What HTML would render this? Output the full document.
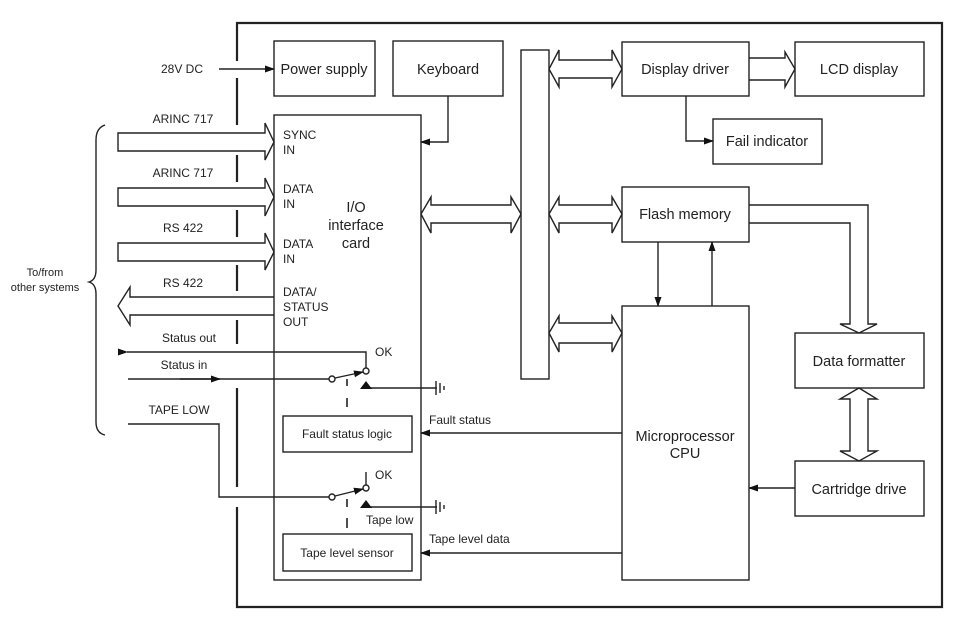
<!DOCTYPE html>
<html><head><meta charset="utf-8"><style>
html,body{margin:0;padding:0;background:#fff;}
svg{display:block;}
text{font-family:"Liberation Sans",Arial,sans-serif;fill:#222;}
</style></head><body>
<svg width="953" height="618" viewBox="0 0 953 618" xmlns="http://www.w3.org/2000/svg">
<defs>
<marker id="a" markerWidth="10" markerHeight="8" refX="9" refY="4" orient="auto" markerUnits="userSpaceOnUse"><path d="M0,0.5 L10,4 L0,7.5 z" fill="#111"/></marker>
</defs>
<g fill="none" stroke="#222" stroke-width="1.4">
<path d="M237,61 V23 H942 V607 H237 V507" stroke-width="2.2"/>
<g stroke-width="2.2">
<line x1="237" y1="78" x2="237" y2="125"/>
<line x1="237" y1="155" x2="237" y2="182"/>
<line x1="237" y1="210" x2="237" y2="237"/>
<line x1="237" y1="265" x2="237" y2="291"/>
<line x1="237" y1="320" x2="237" y2="344"/>
<line x1="237" y1="388" x2="237" y2="487"/>
</g>
<rect x="274" y="41" width="101" height="55"/>
<rect x="393" y="41" width="110" height="55"/>
<rect x="521" y="50" width="28" height="329"/>
<rect x="274" y="115" width="147" height="465"/>
<rect x="622" y="42" width="127" height="54"/>
<rect x="795" y="42" width="129" height="54"/>
<rect x="713" y="119" width="109" height="45"/>
<rect x="622" y="187" width="127" height="55"/>
<rect x="622" y="306" width="127" height="274"/>
<rect x="795" y="333" width="129" height="55"/>
<rect x="795" y="461" width="129" height="55"/>
<rect x="283" y="416" width="129" height="36"/>
<rect x="283" y="534" width="129" height="37"/>
<line x1="219" y1="69" x2="274" y2="69" marker-end="url(#a)"/>
<polyline points="448,96 448,142 421,142" marker-end="url(#a)"/>
<polyline points="686,96 686,141 713,141" marker-end="url(#a)"/>
<line x1="658" y1="242" x2="658" y2="306" marker-end="url(#a)"/>
<line x1="712" y1="306" x2="712" y2="242" marker-end="url(#a)"/>
<line x1="622" y1="433" x2="421" y2="433" marker-end="url(#a)"/>
<line x1="622" y1="553" x2="421" y2="553" marker-end="url(#a)"/>
<line x1="795" y1="488" x2="749" y2="488" marker-end="url(#a)"/>
<path d="M118,133 H265 V123 L274,142 L265,160 V151 H118 Z"/>
<path d="M118,188 H265 V178 L274,197 L265,216 V206 H118 Z"/>
<path d="M118,243 H265 V233 L274,252 L265,270 V261 H118 Z"/>
<path d="M274,297 H130 V287 L118,306 L130,325 V315 H274"/>
<path d="M431,205 H511 V197 L521,214 L511,233 V223 H431 V233 L421,214 L431,197 Z"/>
<path d="M559,205 H612 V197 L622,214 L612,233 V223 H559 V233 L549,214 L559,197 Z"/>
<path d="M559,323 H612 V316 L622,333 L612,352 V343 H559 V352 L549,333 L559,316 Z"/>
<path d="M559,60 H612 V50 L622,69 L612,87 V78 H559 V87 L549,69 L559,50 Z"/>
<path d="M749,58 H785 V52 L795,69 L785,87 V80 H749"/>
<path d="M749,205 H868 V324 H877 L859,333 L840,324 H850 V223 H749"/>
<path d="M850,399 H840 L859,388 L877,399 H868 V451 H877 L859,461 L840,451 H850 Z"/>
<path d="M105,125 Q96,128 96,140 V270 Q96,280 89,282 Q96,284 96,294 V422 Q96,433 105,435"/>
<polyline points="127,352 366,352 366,368" marker-start="url(#a)"/>
<line x1="128" y1="379" x2="329" y2="379"/>
<line x1="180" y1="379" x2="220" y2="379" marker-end="url(#a)"/>
<circle cx="332" cy="379" r="3" fill="#fff"/>
<circle cx="366" cy="371" r="3" fill="#fff"/>
<line x1="335" y1="378" x2="363" y2="372" marker-end="url(#a)"/>
<line x1="362" y1="388" x2="437" y2="388"/>
<line x1="347" y1="379" x2="347" y2="386" stroke-width="1.6"/>
<line x1="347" y1="398" x2="347" y2="407" stroke-width="1.6"/>
<polyline points="128,424 219,424 219,497 329,497"/>
<circle cx="332" cy="497" r="3" fill="#fff"/>
<circle cx="366" cy="488" r="3" fill="#fff"/>
<line x1="366" y1="472" x2="366" y2="485"/>
<line x1="335" y1="496" x2="363" y2="489" marker-end="url(#a)"/>
<line x1="362" y1="507" x2="437" y2="507"/>
<line x1="347" y1="499" x2="347" y2="507" stroke-width="1.6"/>
<line x1="347" y1="518" x2="347" y2="528" stroke-width="1.6"/>
<line x1="436" y1="381" x2="436" y2="395"/><line x1="440" y1="383" x2="440" y2="393"/><line x1="444" y1="386" x2="444" y2="390"/>
<line x1="436" y1="500" x2="436" y2="514"/><line x1="440" y1="502" x2="440" y2="512"/><line x1="444" y1="505" x2="444" y2="509"/>
</g>
<path d="M360,389 L366,381 L372,389 Z" fill="#111"/>
<path d="M360,508 L366,500 L372,508 Z" fill="#111"/>
<g font-size="14.5" text-anchor="middle">
<text x="324" y="74">Power supply</text>
<text x="448" y="74">Keyboard</text>
<text x="685" y="74">Display driver</text>
<text x="859" y="74">LCD display</text>
<text x="767" y="146">Fail indicator</text>
<text x="685" y="219">Flash memory</text>
<text x="685" y="441">Microprocessor</text>
<text x="685" y="458">CPU</text>
<text x="859" y="366">Data formatter</text>
<text x="859" y="494">Cartridge drive</text>
<text x="356" y="212">I/O</text>
<text x="356" y="230">interface</text>
<text x="356" y="248">card</text>
</g>
<g font-size="12">
<text x="283" y="139">SYNC</text><text x="283" y="154">IN</text>
<text x="283" y="193">DATA</text><text x="283" y="208">IN</text>
<text x="283" y="248">DATA</text><text x="283" y="263">IN</text>
<text x="283" y="296">DATA/</text><text x="283" y="311">STATUS</text><text x="283" y="326">OUT</text>
<text x="161" y="73">28V DC</text>
<text x="183" y="123" text-anchor="middle">ARINC 717</text>
<text x="183" y="177" text-anchor="middle">ARINC 717</text>
<text x="183" y="232" text-anchor="middle">RS 422</text>
<text x="183" y="287" text-anchor="middle">RS 422</text>
<text x="189" y="342" text-anchor="middle">Status out</text>
<text x="184" y="369" text-anchor="middle">Status in</text>
<text x="179" y="414" text-anchor="middle">TAPE LOW</text>
<text x="375" y="356">OK</text>
<text x="375" y="479">OK</text>
<text x="366" y="524">Tape low</text>
<text x="429" y="424">Fault status</text>
<text x="429" y="543">Tape level data</text>
<text x="347" y="438" text-anchor="middle">Fault status logic</text>
<text x="347" y="557" text-anchor="middle">Tape level sensor</text>
</g>
<g font-size="11" text-anchor="middle">
<text x="45" y="276">To/from</text>
<text x="45" y="291">other systems</text>
</g>
</svg>
</body></html>
